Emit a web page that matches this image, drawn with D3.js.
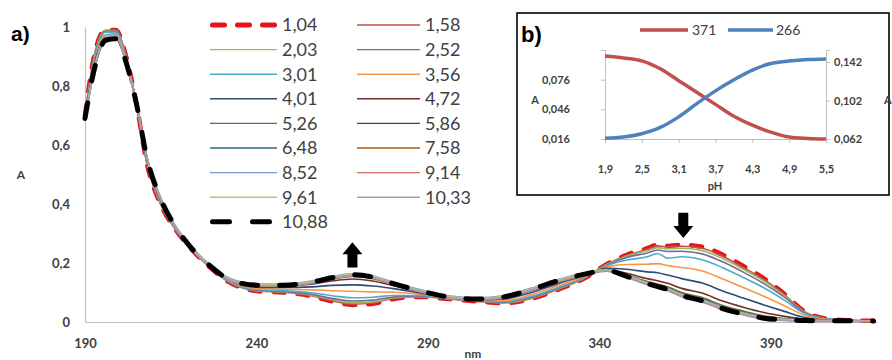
<!DOCTYPE html>
<html><head><meta charset="utf-8">
<script src="https://cdn.jsdelivr.net/npm/d3@7"></script>
<style>body{margin:0;background:#fff}svg{display:block;font-family:Lato,"Open Sans",sans-serif}</style>
</head><body><svg id="c" width="892" height="360"></svg>
<script>
// ---------- main chart data ----------
const wl = [190,193,196,199,202,205,208,212,216,220,226,232,240,248,256,262,268,274,280,288,296,304,312,320,328,336,342,348,354,357,360,364,370,376,382,388,394,400,406,412,420];
const pHLabels = ["1,04","1,58","2,03","2,52","3,01","3,56","4,01","4,72","5,26","5,86","6,48","7,58","8,52","9,14","9,61","10,33","10,88"];
const s104 = [0.700,0.920,0.990,0.990,0.900,0.740,0.540,0.400,0.320,0.260,0.190,0.135,0.105,0.100,0.088,0.070,0.058,0.062,0.078,0.085,0.078,0.070,0.064,0.078,0.110,0.150,0.195,0.228,0.250,0.262,0.258,0.262,0.255,0.228,0.190,0.148,0.095,0.035,0.012,0.006,0.004];
const s158 = [0.700,0.918,0.989,0.989,0.899,0.740,0.541,0.401,0.320,0.260,0.190,0.135,0.106,0.101,0.089,0.072,0.061,0.065,0.080,0.086,0.078,0.070,0.065,0.079,0.111,0.150,0.194,0.226,0.246,0.258,0.254,0.257,0.250,0.223,0.185,0.144,0.092,0.034,0.012,0.006,0.004];
const s203 = [0.699,0.917,0.988,0.988,0.899,0.740,0.541,0.401,0.321,0.260,0.190,0.136,0.106,0.102,0.091,0.076,0.065,0.068,0.082,0.086,0.078,0.071,0.065,0.080,0.112,0.151,0.194,0.223,0.242,0.252,0.248,0.250,0.242,0.215,0.179,0.139,0.089,0.033,0.011,0.006,0.004];
const s252 = [0.699,0.914,0.985,0.986,0.897,0.740,0.543,0.403,0.321,0.261,0.191,0.136,0.108,0.103,0.094,0.080,0.071,0.074,0.085,0.088,0.079,0.071,0.067,0.082,0.114,0.152,0.192,0.219,0.234,0.244,0.239,0.240,0.231,0.204,0.169,0.130,0.084,0.031,0.011,0.006,0.004];
const s301 = [0.698,0.908,0.982,0.983,0.895,0.740,0.545,0.405,0.322,0.261,0.191,0.137,0.110,0.106,0.099,0.089,0.082,0.084,0.090,0.090,0.080,0.072,0.069,0.086,0.117,0.153,0.190,0.210,0.221,0.232,0.216,0.221,0.211,0.184,0.151,0.116,0.074,0.028,0.010,0.006,0.004];
const s356 = [0.696,0.898,0.974,0.977,0.891,0.740,0.549,0.409,0.325,0.262,0.192,0.140,0.114,0.111,0.109,0.106,0.104,0.102,0.101,0.094,0.081,0.074,0.073,0.092,0.123,0.156,0.186,0.195,0.196,0.198,0.191,0.185,0.173,0.146,0.117,0.087,0.055,0.022,0.008,0.005,0.004];
const s401 = [0.693,0.887,0.967,0.970,0.887,0.740,0.553,0.413,0.327,0.263,0.193,0.142,0.118,0.117,0.119,0.124,0.126,0.122,0.113,0.098,0.083,0.075,0.078,0.099,0.130,0.159,0.182,0.179,0.170,0.167,0.159,0.147,0.132,0.105,0.081,0.058,0.036,0.015,0.007,0.005,0.003];
const s472 = [0.691,0.877,0.960,0.964,0.883,0.740,0.557,0.417,0.329,0.264,0.194,0.144,0.122,0.122,0.128,0.139,0.146,0.139,0.123,0.102,0.084,0.077,0.082,0.106,0.136,0.161,0.178,0.165,0.147,0.140,0.131,0.114,0.098,0.071,0.050,0.032,0.019,0.009,0.005,0.004,0.003];
const s526 = [0.690,0.873,0.957,0.962,0.881,0.740,0.559,0.419,0.329,0.265,0.195,0.144,0.124,0.123,0.132,0.145,0.154,0.147,0.127,0.104,0.085,0.078,0.084,0.108,0.138,0.162,0.176,0.159,0.137,0.129,0.119,0.100,0.083,0.056,0.037,0.021,0.012,0.007,0.004,0.004,0.003];
const s586 = [0.690,0.872,0.956,0.961,0.881,0.740,0.559,0.419,0.330,0.265,0.195,0.145,0.124,0.124,0.134,0.148,0.157,0.149,0.128,0.104,0.085,0.078,0.084,0.109,0.139,0.163,0.176,0.157,0.134,0.124,0.114,0.095,0.078,0.050,0.032,0.017,0.010,0.006,0.004,0.004,0.003];
const s648 = [0.690,0.871,0.956,0.961,0.880,0.740,0.560,0.420,0.330,0.265,0.195,0.145,0.125,0.124,0.134,0.148,0.158,0.150,0.129,0.105,0.085,0.078,0.085,0.109,0.139,0.163,0.175,0.156,0.132,0.123,0.113,0.093,0.076,0.049,0.030,0.016,0.009,0.006,0.004,0.004,0.003];
const s758 = [0.690,0.870,0.955,0.960,0.880,0.740,0.560,0.420,0.330,0.265,0.195,0.145,0.125,0.125,0.135,0.149,0.159,0.151,0.130,0.105,0.085,0.078,0.085,0.110,0.140,0.163,0.175,0.156,0.131,0.121,0.112,0.092,0.074,0.047,0.029,0.015,0.008,0.005,0.004,0.004,0.003];
const s852 = [0.694,0.876,0.972,0.975,0.885,0.744,0.563,0.424,0.334,0.269,0.199,0.149,0.129,0.129,0.139,0.154,0.163,0.156,0.134,0.109,0.089,0.082,0.089,0.114,0.144,0.167,0.178,0.159,0.134,0.124,0.114,0.094,0.076,0.049,0.031,0.017,0.010,0.007,0.006,0.005,0.004];
const s914 = [0.686,0.866,0.965,0.970,0.876,0.736,0.556,0.416,0.326,0.261,0.191,0.141,0.121,0.121,0.131,0.146,0.156,0.148,0.126,0.101,0.081,0.074,0.081,0.106,0.136,0.159,0.172,0.151,0.126,0.116,0.106,0.086,0.068,0.041,0.024,0.010,0.005,0.003,0.002,0.002,0.002];
const s961 = [0.692,0.873,0.970,0.972,0.882,0.742,0.562,0.422,0.332,0.267,0.197,0.147,0.127,0.127,0.137,0.152,0.162,0.154,0.132,0.107,0.087,0.080,0.087,0.112,0.142,0.165,0.177,0.157,0.132,0.122,0.112,0.092,0.074,0.047,0.029,0.015,0.009,0.006,0.005,0.005,0.004];
const s1033 = [0.688,0.868,0.968,0.970,0.878,0.738,0.558,0.418,0.328,0.263,0.193,0.143,0.123,0.123,0.133,0.148,0.158,0.150,0.128,0.103,0.083,0.076,0.083,0.108,0.138,0.161,0.173,0.153,0.128,0.118,0.108,0.088,0.070,0.043,0.025,0.011,0.006,0.004,0.003,0.003,0.002];
const s1088 = [0.690,0.870,0.955,0.960,0.880,0.740,0.560,0.420,0.330,0.265,0.195,0.145,0.125,0.125,0.135,0.150,0.160,0.152,0.130,0.105,0.085,0.078,0.085,0.110,0.140,0.163,0.175,0.155,0.130,0.120,0.110,0.090,0.072,0.045,0.027,0.013,0.007,0.005,0.004,0.004,0.003];
const yTicks = [0,0.2,0.4,0.6,0.8,1];
const xTicks = [190,240,290,340,390];

// ---------- inset data ----------
const pH = [1.9,2.2,2.5,2.8,3.1,3.4,3.7,4.0,4.3,4.6,4.9,5.2,5.5];
const a371 = [0.100,0.098,0.095,0.087,0.075,0.063,0.051,0.039,0.030,0.023,0.018,0.0165,0.016];
const a266 = [0.0627,0.064,0.0675,0.074,0.085,0.099,0.112,0.1235,0.1335,0.1405,0.143,0.1445,0.1452];
const pHTicks = [1.9,2.5,3.1,3.7,4.3,4.9,5.5];
const leftTicks = [0.016,0.046,0.076];
const rightTicks = [0.062,0.102,0.142];

const allSeries = [s104,s158,s203,s252,s301,s356,s401,s472,s526,s586,s648,s758,s852,s914,s961,s1033,s1088];
const colors = ["#e8141c","#C0504D","#9BBB59","#8064A2","#4BACC6","#F79646","#2C4D75","#772C2A","#5F7530","#4D3B62","#276A7C","#B65708","#729ACA","#CD7371","#AFC97A","#A99BBD","#000000"];
const comma = d => String(d).replace(".", ",");

const svg = d3.select("#c");
const x = d3.scaleLinear().domain([190, 421]).range([85, 877]);
const y = d3.scaleLinear().domain([0, 1]).range([322, 27]);

// axes
const gx = svg.append("g").attr("transform","translate(0,322)")
  .call(d3.axisBottom(x).tickValues(xTicks).tickSize(0).tickPadding(17).tickFormat(d3.format("d")));
const gy = svg.append("g").attr("transform","translate(85,0)")
  .call(d3.axisLeft(y).tickValues(yTicks).tickSize(0).tickPadding(15).tickFormat(comma));
[gx, gy].forEach(g => {
  g.select(".domain").attr("stroke","#bfbfbf").attr("stroke-width",1.2);
  g.selectAll("text").attr("fill","#404040").style("font-size","13px").style("font-weight","bold").style("font-family","Lato,sans-serif");
});
svg.append("text").attr("x",473).attr("y",358).attr("text-anchor","middle")
  .attr("fill","#404040").style("font-size","12px").style("font-weight","bold").text("nm");
svg.append("text").attr("x",21).attr("y",179).attr("text-anchor","middle")
  .attr("fill","#404040").style("font-size","12px").style("font-weight","bold").text("A");
svg.append("text").attr("x",11).attr("y",41).attr("fill","#000")
  .style("font-size","21px").style("font-weight","bold").style("font-family","Liberation Sans,Arial,sans-serif").text("a)");

// lines
const line = d3.line().x((d,i)=>x(wl[i])).y(d=>y(d)).curve(d3.curveMonotoneX);
const styleOf = i => {
  if (i === 0) return {w:4.5, dash:"11,13", cap:"round"};
  if (i === allSeries.length-1) return {w:5, dash:"16,22", cap:"round"};
  return {w:1.6, dash:null, cap:"butt"};
};
allSeries.forEach((s,i) => {
  const st = styleOf(i);
  svg.append("path").attr("d", line(s)).attr("fill","none")
    .attr("stroke", colors[i]).attr("stroke-width", st.w)
    .attr("stroke-dasharray", st.dash).attr("stroke-linecap", st.cap)
    .attr("stroke-linejoin","round");
});

// legend
const leg = svg.append("g");
pHLabels.forEach((lab,i) => {
  const col = i % 2, row = Math.floor(i/2);
  const x0 = col === 0 ? 210 : 357, x1 = col === 0 ? 277 : 420, ty = 25 + row*24.6;
  const st = styleOf(i);
  const isDash = st.dash !== null;
  leg.append("line").attr("x1", isDash ? x0+2.5 : x0).attr("x2", isDash ? x1-2.5 : x1).attr("y1",ty).attr("y2",ty)
    .attr("stroke", colors[i]).attr("stroke-width", isDash ? 5 : 1.4)
    .attr("stroke-dasharray", i===0 ? "12,13" : (isDash ? "17,23" : null)).attr("stroke-linecap", st.cap);
  leg.append("text").attr("x", col === 0 ? 282 : 425).attr("y", ty).attr("dy","0.36em")
    .attr("fill","#404040").style("font-size","18px").text(lab);
});

// arrows
function arrow(cx, yTail, yTip) {
  const dir = Math.sign(yTip - yTail);
  const headLen = 12, hw = 10, sw = 5;
  const yNeck = yTip - dir*headLen;
  const pts = [[cx-sw,yTail],[cx+sw,yTail],[cx+sw,yNeck],[cx+hw,yNeck],[cx,yTip],[cx-hw,yNeck],[cx-sw,yNeck]];
  svg.append("path").attr("d", d3.line()(pts)+"Z").attr("fill","#000");
}
arrow(x(268), y(0.185), y(0.27));
arrow(x(364.5), y(0.37), y(0.285));

// ---------- inset ----------
svg.append("rect").attr("x",517).attr("y",13).attr("width",372).attr("height",182)
  .attr("fill","#fff").attr("stroke","#000").attr("stroke-width",1.6);
svg.append("text").attr("x",521).attr("y",42).style("font-size","22px").style("font-weight","bold")
  .style("font-family","Liberation Sans,Arial,sans-serif").text("b)");
const xi = d3.scaleLinear().domain([1.9,5.5]).range([605,826]);
const yl = d3.scaleLinear().domain([0.016,0.106]).range([139,50]);
const yr = d3.scaleLinear().domain([0.062,0.1545]).range([139,50]);
const ax1 = svg.append("g").attr("transform","translate(0,139)")
  .call(d3.axisBottom(xi).tickValues(pHTicks).tickSize(4).tickPadding(30).tickFormat(comma));
const ax2 = svg.append("g").attr("transform","translate(605,0)")
  .call(d3.axisLeft(yl).tickValues(leftTicks).tickSize(4).tickPadding(31).tickFormat(comma));
const ax3 = svg.append("g").attr("transform","translate(826,0)")
  .call(d3.axisRight(yr).tickValues(rightTicks).tickSize(4).tickPadding(4).tickFormat(comma));
[ax1,ax2,ax3].forEach(g => {
  g.select(".domain").attr("stroke","#bfbfbf");
  g.selectAll(".tick line").attr("stroke","#bfbfbf");
  g.selectAll("text").attr("fill","#404040").style("font-size","11px").style("font-weight","bold").style("font-family","Lato,sans-serif");
});
ax1.selectAll("text").attr("dy","0em");
svg.append("text").attr("x",715).attr("y",190).attr("text-anchor","middle").attr("fill","#404040")
  .style("font-size","11px").style("font-weight","bold").text("pH");
svg.append("text").attr("x",535).attr("y",104).attr("text-anchor","middle").attr("fill","#404040")
  .style("font-size","11px").style("font-weight","bold").text("A");
svg.append("text").attr("x",884).attr("y",104).attr("fill","#404040")
  .style("font-size","11px").style("font-weight","bold").text("A");
const l371 = d3.line().x((d,i)=>xi(pH[i])).y(d=>yl(d)).curve(d3.curveMonotoneX);
const l266 = d3.line().x((d,i)=>xi(pH[i])).y(d=>yr(d)).curve(d3.curveMonotoneX);
svg.append("path").attr("d", l371(a371)).attr("fill","none").attr("stroke","#C0504D").attr("stroke-width",3.5);
svg.append("path").attr("d", l266(a266)).attr("fill","none").attr("stroke","#4F81BD").attr("stroke-width",3.5);
// inset legend
[["371","#C0504D",640,688,692],["266","#4F81BD",728,773,776]].forEach(([t,c,a,b,tx]) => {
  svg.append("line").attr("x1",a).attr("x2",b).attr("y1",30).attr("y2",30).attr("stroke",c).attr("stroke-width",3.5);
  svg.append("text").attr("x",tx).attr("y",30).attr("dy","0.36em").attr("fill","#404040").style("font-size","14px").text(t);
});
</script></body></html>
